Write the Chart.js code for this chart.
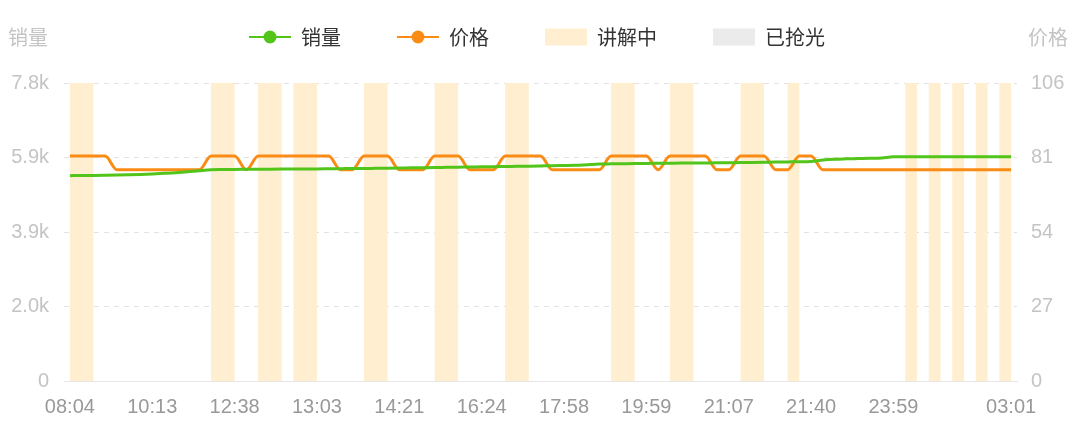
<!DOCTYPE html>
<html>
<head>
<meta charset="utf-8">
<script src="https://cdn.jsdelivr.net/npm/chart.js@4.4.1/dist/chart.umd.min.js"></script>
<style>
  html, body { margin: 0; padding: 0; background: #fff; }
  #wrap { width: 1080px; height: 428px; }
</style>
</head>
<body>
<div id="wrap"><canvas id="c" width="1080" height="428"></canvas></div>
<script>
// x axis: 81 sample points, only some carry a time label
const tickIndex = [0, 7, 14, 21, 28, 35, 42, 49, 56, 63, 70, 80];
const tickLabels = ['08:04', '10:13', '12:38', '13:03', '14:21', '16:24', '17:58', '19:59', '21:07', '21:40', '23:59', '03:01'];
const salesTickLabels = ['0', '2.0k', '3.9k', '5.9k', '7.8k'];
const priceTickLabels = ['0', '27', '54', '81', '106'];

const sales = [
  5375, 5377, 5380, 5384, 5390, 5398, 5408, 5420, 5435, 5452,
  5475, 5505, 5530, 5535, 5538, 5540, 5542, 5544, 5546, 5548,
  5550, 5552, 5555, 5558, 5560, 5563, 5567, 5571, 5575, 5579,
  5583, 5587, 5592, 5597, 5601, 5606, 5610, 5614, 5618, 5622,
  5628, 5636, 5640, 5645, 5662, 5678, 5684, 5688, 5692, 5695,
  5698, 5701, 5704, 5706, 5708, 5710, 5713, 5718, 5722, 5726,
  5730, 5735, 5740, 5748, 5785, 5806, 5815, 5822, 5829, 5838,
  5868, 5870, 5871, 5871, 5872, 5872, 5872, 5872, 5872, 5872,
  5872
];

const price = [
  81.5, 81.5, 81.5, 81.5, 76.6, 76.6, 76.6, 76.6, 76.6, 76.6,
  76.6, 76.6, 81.5, 81.5, 81.5, 76.6, 81.5, 81.5, 81.5, 81.5,
  81.5, 81.5, 81.5, 76.6, 76.6, 81.5, 81.5, 81.5, 76.6, 76.6,
  76.6, 81.5, 81.5, 81.5, 76.6, 76.6, 76.6, 81.5, 81.5, 81.5,
  81.5, 76.6, 76.6, 76.6, 76.6, 76.6, 81.5, 81.5, 81.5, 81.5,
  76.6, 81.5, 81.5, 81.5, 81.5, 76.6, 76.6, 81.5, 81.5, 81.5,
  76.6, 76.6, 81.5, 81.5, 76.6, 76.6, 76.6, 76.6, 76.6, 76.6,
  76.6, 76.6, 76.6, 76.6, 76.6, 76.6, 76.6, 76.6, 76.6, 76.6,
  76.6
];

// [start index, end index] of each "讲解中" period
const liveBands = [
  [0, 2], [12, 14], [16, 18], [19, 21], [25, 27], [31, 33], [37, 39],
  [46, 48], [51, 53], [57, 59], [61, 62], [71, 72], [73, 74], [75, 76],
  [77, 78], [79, 80]
];
const soldOutBands = [];

const labels = new Array(sales.length).fill('');
tickIndex.forEach((idx, i) => { labels[idx] = tickLabels[i]; });

Chart.defaults.font.family = '"Liberation Sans", "Noto Sans CJK SC", sans-serif';

const bandPlugin = {
  id: 'bands',
  beforeDatasetsDraw(chart) {
    const {ctx, chartArea, scales} = chart;
    const x = scales.x;
    ctx.save();
    chart.data.datasets.forEach(ds => {
      if (!ds.bands) return;
      ctx.fillStyle = ds.backgroundColor;
      ds.bands.forEach(([s, e]) => {
        const x1 = x.getPixelForValue(s);
        const x2 = x.getPixelForValue(e);
        ctx.fillRect(x1, chartArea.top, x2 - x1, chartArea.bottom - chartArea.top);
      });
    });
    ctx.restore();
  }
};

// legend + axis names on top row
const topRowPlugin = {
  id: 'topRow',
  afterDraw(chart) {
    const {ctx} = chart;
    const y = 37;
    ctx.save();
    ctx.font = '20px "Noto Sans CJK SC", sans-serif';
    ctx.textBaseline = 'middle';

    ctx.fillStyle = '#c4c4c4';
    ctx.textAlign = 'left';
    ctx.fillText('销量', 8, y);
    ctx.textAlign = 'right';
    ctx.fillText('价格', 1068, y);

    const items = chart.data.datasets;
    const iconW = 42, gap = 10, spacing = 56;
    ctx.textAlign = 'left';
    const widths = items.map(ds => iconW + gap + ctx.measureText(ds.label).width);
    const total = widths.reduce((a, b) => a + b, 0) + spacing * (items.length - 1);
    let x = 537 - total / 2;
    items.forEach((ds, i) => {
      if (ds.type === 'line') {
        ctx.strokeStyle = ds.borderColor;
        ctx.lineWidth = 2;
        ctx.beginPath();
        ctx.moveTo(x, y);
        ctx.lineTo(x + iconW, y);
        ctx.stroke();
        ctx.fillStyle = ds.borderColor;
        ctx.beginPath();
        ctx.arc(x + iconW / 2, y, 6.5, 0, Math.PI * 2);
        ctx.fill();
      } else {
        ctx.fillStyle = ds.backgroundColor;
        ctx.fillRect(x, y - 8.5, iconW, 17);
      }
      ctx.fillStyle = '#333';
      ctx.fillText(ds.label, x + iconW + gap, y);
      x += widths[i] + spacing;
    });
    ctx.restore();
  }
};

new Chart(document.getElementById('c'), {
  data: {
    labels: labels,
    datasets: [
      {
        type: 'line', label: '销量', data: sales, yAxisID: 'y',
        borderColor: '#52c41a', borderWidth: 3, pointRadius: 0,
        cubicInterpolationMode: 'monotone', order: 1
      },
      {
        type: 'line', label: '价格', data: price, yAxisID: 'y1',
        borderColor: '#fa8c16', borderWidth: 3, pointRadius: 0,
        cubicInterpolationMode: 'monotone', order: 2
      },
      { type: 'bar', label: '讲解中', data: [], bands: liveBands, backgroundColor: '#ffeecf', yAxisID: 'y' },
      { type: 'bar', label: '已抢光', data: [], bands: soldOutBands, backgroundColor: '#ebebeb', yAxisID: 'y' }
    ]
  },
  options: {
    responsive: false,
    animation: false,
    layout: { padding: { top: 83, bottom: 0, left: 0, right: 0 } },
    plugins: { legend: { display: false }, tooltip: { enabled: false } },
    scales: {
      x: {
        offset: true,
        grid: { display: false },
        border: { display: true, color: '#e6e6e6', width: 1 },
        ticks: {
          autoSkip: false, maxRotation: 0, padding: 6,
          color: '#999', font: { size: 20 },
          callback: (v, i) => labels[i]
        },
        afterFit: s => { s.height = 47; }
      },
      y: {
        position: 'left', min: 0, max: 7800,
        afterBuildTicks: s => { s.ticks = salesTickLabels.map((_, i) => ({ value: i * 1950 })); },
        grid: { color: '#e2e2e2', drawTicks: false, lineWidth: 1 },
        border: { display: false, dash: [5, 5] },
        ticks: {
          padding: 15, color: '#c4c4c4', font: { size: 20 },
          callback: (v, i) => salesTickLabels[i]
        },
        afterFit: s => { s.width = 64; }
      },
      y1: {
        position: 'right', min: 0, max: 108,
        afterBuildTicks: s => { s.ticks = priceTickLabels.map((_, i) => ({ value: i * 27 })); },
        grid: { display: false, drawTicks: false },
        border: { display: false },
        ticks: {
          padding: 14, color: '#c4c4c4', font: { size: 20 },
          callback: (v, i) => priceTickLabels[i]
        },
        afterFit: s => { s.width = 63; }
      }
    }
  },
  plugins: [bandPlugin, topRowPlugin]
});
</script>
</body>
</html>
